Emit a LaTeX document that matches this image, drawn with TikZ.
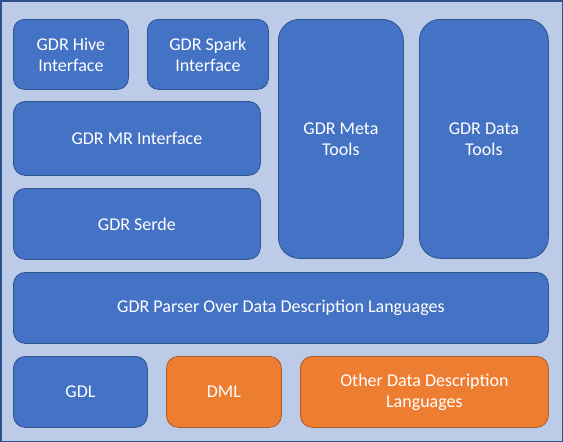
\documentclass[tikz,border=0pt]{standalone}
\usepackage{fontspec}
\setmainfont{Carlito}
\usetikzlibrary{positioning}
\definecolor{gdrblue}{HTML}{4472C4}
\definecolor{gdrline}{HTML}{2F528F}
\definecolor{gdrorange}{HTML}{ED7D31}
\definecolor{gdroline}{HTML}{AE5A21}
\definecolor{gdrback}{HTML}{BCCCE8}

\begin{document}
\begin{tikzpicture}[x=1pt,y=-1pt,
  blk/.style={draw=gdrline,fill=gdrblue,line width=0.8pt,text=white,align=center,
    font=\fontsize{18}{21}\selectfont,anchor=north west,inner sep=0pt},
  ext/.style={blk,draw=gdroline,fill=gdrorange}]
\useasboundingbox (0,0) rectangle (563,442);
\draw[draw=gdrline,fill=gdrback,line width=1.5pt] (0.75,0.75) rectangle (562.25,441.25);
% upper stack: interfaces and serde
\foreach \nm/\x/\y/\w/\h/\r/\txt in {
  hive/13/19/115/70/11/{GDR Hive\\Interface},
  spark/147/19/121/70/11/{GDR Spark\\Interface},
  mr/13/101/247/74/12/{GDR MR Interface},
  serde/13/188/247/71/12/{GDR Serde},
  meta/278/19/125/239/21/{GDR Meta\\Tools},
  data/419/19/129/239/21/{GDR Data\\Tools},
  parser/13/272/535/71/12/{GDR Parser Over Data Description Languages},
  gdl/13/356/134/71/12/{GDL}}{
  \node[blk,minimum width=\w,minimum height=\h,rounded corners=\r] (\nm) at (\x,\y) {\txt};
}
% description languages
\foreach \nm/\x/\w/\txt in {dml/166/115/{DML}, other/300/248/{Other Data Description\\Languages}}{
  \node[ext,minimum width=\w,minimum height=71,rounded corners=12] (\nm) at (\x,356) {\txt};
}
\end{tikzpicture}
\end{document}
